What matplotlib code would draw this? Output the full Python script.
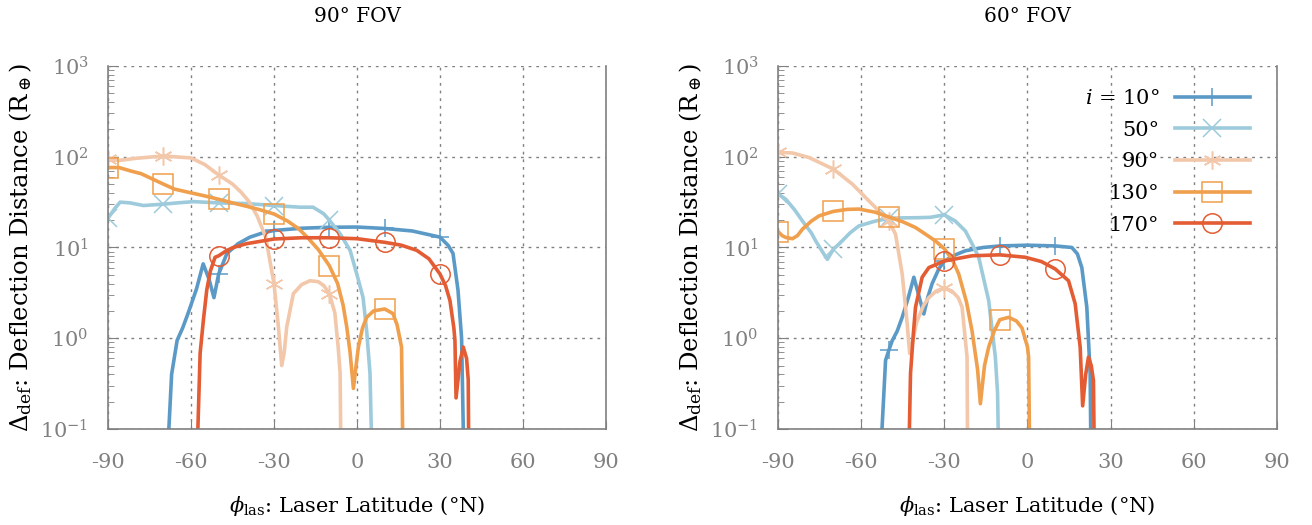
import matplotlib
matplotlib.use("Agg")
import matplotlib.pyplot as plt

plt.rcParams['font.family'] = ['DejaVu Serif']
plt.rcParams['mathtext.fontset'] = 'dejavuserif'
plt.rcParams['axes.unicode_minus'] = False

inclinations = ['10°', '50°', '90°', '130°', '170°']
colors = ['#5b9ac6', '#9dcbdc', '#f2c7aa', '#f09f4c', '#e35c33']
markers = ['+', 'x', (6, 2, 0), 's', 'o']
marker_lat = [-90, -70, -50, -30, -10, 10, 30, 50, 70, 90]
xticks = [-90, -60, -30, 0, 30, 60, 90]

# 90 deg field of view
fov90_x = [
    [-68.5, -67, -65, -63, -61, -58, -55.6, -53.5, -51.7, -50, -47, -43, -38.7, -34, -30,
     -20, -10, 0, 10, 20, 30, 33, 34.7, 36.5, 37.8, 38.6],
    [-90, -87.5, -85.6, -82, -77.2, -70, -65, -59, -50, -40, -30, -20.6, -15.9, -12, -10,
     -6, -2.5, 0, 2.2, 3.5, 4.7, 5.4],
    [-90, -86, -80, -70, -60, -55, -50, -45, -42, -39, -36, -33, -30, -28.4, -27.2, -26.3,
     -25.4, -23, -20, -17, -14, -12, -10, -8, -6.8, -6.1, -5.8],
    [-90, -86, -82, -78, -74, -70, -66, -60, -55, -50, -45, -40, -35, -30, -25, -21, -18,
     -14, -10, -7, -5, -3.7, -2.5, -1.3, -0.5, 0.5, 2, 3.5, 6, 10, 13, 14.5, 16.1, 16.6],
    [-57.8, -56.7, -55.5, -54.3, -53, -51.3, -50, -47, -44.7, -40, -30, -20, -10, 0, 10,
     16, 21.6, 26, 30, 32, 33.6, 35, 35.4, 35.8, 37.2, 38.4, 39.6, 40.2, 40.4],
]
fov90_y = [
    [0.05, 0.4, 0.95, 1.3, 1.9, 3.5, 6.6, 4.5, 2.8, 5.1, 8.6, 11, 13, 14.5, 15.4,
     16.3, 16.7, 16.8, 16.2, 15.2, 13, 10.5, 8.6, 3.4, 1.0, 0.05],
    [21, 27, 31.6, 31, 29, 30, 31, 32, 31, 30.5, 29, 27.8, 27.8, 23.5, 20,
     14, 9.3, 5, 2.8, 1.2, 0.41, 0.05],
    [95, 91, 96, 102, 97, 82, 63, 50, 41, 32, 22, 13, 4.0, 1.33, 0.5, 0.7,
     1.33, 3.1, 3.9, 4.3, 4.2, 3.8, 3.1, 1.9, 0.8, 0.41, 0.05],
    [76, 76, 70, 65, 57, 50, 44, 40, 37, 34, 31, 28.5, 26, 23.4, 19.5, 16, 13,
     9.5, 6.3, 4, 2.3, 1.33, 0.7, 0.28, 0.45, 0.8, 1.3, 1.7, 2.0, 2.1, 1.87, 1.4, 0.8, 0.05],
    [0.05, 0.68, 1.6, 3.4, 5.5, 7.8, 8.1, 9.3, 10, 11, 12.4, 12.8, 12.8, 12.5, 11.4,
     10.6, 9.3, 7.5, 5.1, 3.8, 2.6, 1.3, 0.95, 0.22, 0.55, 0.8, 0.6, 0.35, 0.05],
]

# 60 deg field of view
fov60_x = [
    [-53, -51.2, -50, -48.8, -47, -45.2, -43, -41, -39, -37.4, -36, -34.4, -32, -30, -26,
     -22.4, -16, -10, 0, 10, 16, 18, 19.6, 21.4, 22.6, 22.9],
    [-90, -87.2, -84, -81.2, -78, -76.4, -74, -72.2, -70, -68, -64, -60.8, -55, -50, -45,
     -39.2, -35, -30, -26, -22.4, -20, -17.6, -14, -11.6, -10.8, -10.4],
    [-90, -84.8, -78.8, -70, -63.2, -57.2, -50, -47.6, -45.2, -43.4, -42.5, -41.5, -40,
     -37.5, -35.6, -33, -30, -27.2, -25, -23.6, -21.8, -21.6],
    [-90, -88.5, -87.2, -84.8, -83, -81.2, -78, -75.2, -70, -65, -60.8, -55, -50, -45,
     -40.4, -36, -33.2, -30, -27, -24.8, -22, -20, -18, -17, -15.5, -14, -12, -10, -6.8,
     -4, -2, 0, 0.4, 0.8],
    [-42.8, -42.2, -41.2, -40.4, -38, -35.6, -30, -20, -10, -0.8, 5, 10, 14.8, 17.2, 19,
     19.9, 21, 22, 23, 23.8, 24.1],
]
fov60_y = [
    [0.05, 0.57, 0.74, 0.94, 1.2, 1.7, 2.8, 4.7, 2.8, 1.85, 2.8, 4.0, 5.8, 7.1, 8.3,
     9.2, 10, 10.4, 10.6, 10.4, 10, 8.5, 6, 2.2, 0.41, 0.05],
    [39, 34, 26, 19.6, 14.5, 11.8, 9, 7.4, 9.6, 10.9, 14.5, 17.3, 19.5, 21, 21.2,
     21.3, 21.5, 22.9, 19.5, 15.2, 11, 7.8, 2.6, 0.62, 0.25, 0.05],
    [112, 110, 98, 73, 50, 32.6, 19.6, 14, 5.1, 1.44, 0.68, 0.9, 1.5,
     2.3, 2.8, 3.3, 3.6, 3.3, 2.8, 2.2, 0.62, 0.05],
    [15, 13.5, 12.9, 12.5, 13.5, 15.9, 19.5, 22.3, 25, 26.3, 26.5, 24.5, 21.7, 19.2,
     16.6, 13.5, 11.8, 9.7, 7.2, 5.1, 2.5, 1.2, 0.45, 0.19, 0.5, 0.8, 1.2, 1.6, 1.7,
     1.55, 1.3, 0.8, 0.62, 0.05],
    [0.05, 0.41, 1.1, 2.2, 4.7, 6, 7.1, 8.1, 8.3, 7.8, 7.0, 5.8, 4.3, 2.4, 0.8,
     0.18, 0.4, 0.62, 0.5, 0.34, 0.05],
]

fig = plt.figure(figsize=(13.12, 5.25), dpi=100)
ax1 = fig.add_axes([0.0823, 0.1829, 0.3796, 0.6914])
ax2 = fig.add_axes([0.5930, 0.1829, 0.3803, 0.6914])

grey = '#808080'
fs = 15
for ax, xs, ys, title in [(ax1, fov90_x, fov90_y, '90° FOV'), (ax2, fov60_x, fov60_y, '60° FOV')]:
    for k in range(5):
        every = [j for j, v in enumerate(xs[k]) if v in marker_lat]
        ax.plot(xs[k], ys[k], color=colors[k], lw=2.6, marker=markers[k], markevery=every,
                ms=13 if k < 3 else 14, mew=1.1, mfc='none', mec=colors[k],
                label=('$i$ = ' if k == 0 else '') + inclinations[k])
    ax.set_yscale('log')
    ax.set_xlim(-90, 90)
    ax.set_ylim(0.1, 1000)
    ax.set_xticks(xticks)
    ax.set_xticklabels([str(v) for v in xticks])
    ax.set_yticks([0.1, 1, 10, 100, 1000])
    ax.set_yticklabels(['$10^{-1}$', '$10^{0}$', '$10^{1}$', '$10^{2}$', '$10^{3}$'])
    ax.tick_params(axis='both', which='both', direction='in', colors=grey,
                   labelcolor=grey, labelsize=fs, top=False, right=False)
    ax.tick_params(axis='y', which='major', length=7, pad=14)
    ax.tick_params(axis='y', which='minor', length=4)
    ax.tick_params(axis='x', which='major', length=6, pad=17)
    ax.grid(True, which='major', color=grey, ls=(0, (2, 3.5)), lw=1)
    ax.spines['top'].set_visible(False)
    for s in ['left', 'bottom', 'right']:
        ax.spines[s].set_color(grey)
        ax.spines[s].set_linewidth(1.2)
    ax.set_title(title, fontsize=14.5, pad=32)
    ax.set_xlabel(r'$\phi_\mathrm{las}$: Laser Latitude (°N)', fontsize=fs, labelpad=16)
    ax.set_ylabel(r'$\Delta_\mathrm{def}$: Deflection Distance (R$_\oplus$)', fontsize=17.5)
    ax.yaxis.set_label_coords(-0.149, 0.5)

ax2.legend(loc='upper right', bbox_to_anchor=(0.9625, 0.96), borderaxespad=0,
           frameon=False, markerfirst=False, fontsize=fs, handlelength=3.6,
           handletextpad=0.75, labelspacing=0.61)

fig.savefig('out.png', dpi=100)
